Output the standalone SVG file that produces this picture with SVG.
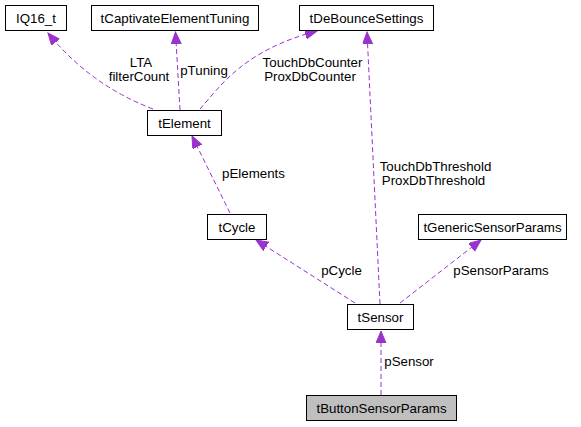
<svg xmlns="http://www.w3.org/2000/svg" width="581" height="427" viewBox="0 0 581 427">
<style>
.node rect{fill:#ffffff;stroke:#000000;stroke-width:1}
.node.main rect{fill:#bfbfbf}
text{font-family:"Liberation Sans",Arial,sans-serif;font-size:13.3px;fill:#000000}
.node text{text-anchor:middle}
.edge path{fill:none;stroke:#9a32cd;stroke-width:1;stroke-dasharray:5,3}
.lbl{text-anchor:middle}
</style>
<defs>
<marker id="arr" markerUnits="userSpaceOnUse" markerWidth="14" markerHeight="12" refX="12" refY="5" orient="auto">
<path d="M0,0 L12,5 L0,10 z" fill="#9a32cd" stroke="#9a32cd" stroke-width="1"/>
</marker>
</defs>
<rect width="581" height="427" fill="#ffffff"/>
<g id="edges">
<g class="edge"><path d="M153,109 Q90,85 48,33" marker-end="url(#arr)"/></g>
<g class="edge"><path d="M180,110 L175.5,32" marker-end="url(#arr)"/></g>
<g class="edge"><path d="M200,109 C222,84 245,50 317,31" marker-end="url(#arr)"/></g>
<g class="edge"><path d="M230,213 L192,136" marker-end="url(#arr)"/></g>
<g class="edge"><path d="M355,303 L256,240" marker-end="url(#arr)"/></g>
<g class="edge"><path d="M380,304 L367,32" marker-end="url(#arr)"/></g>
<g class="edge"><path d="M400,303 L481,240" marker-end="url(#arr)"/></g>
<g class="edge"><path d="M381,395 L381,331" marker-end="url(#arr)"/></g>
<text class="lbl" x="141" y="66.5">LTA</text>
<text class="lbl" x="139" y="80.5">filterCount</text>
<text class="lbl" x="204" y="74.5">pTuning</text>
<text class="lbl" x="312.5" y="66.5">TouchDbCounter</text>
<text class="lbl" x="310" y="80.5">ProxDbCounter</text>
<text class="lbl" x="253.5" y="177.5">pElements</text>
<text class="lbl" x="435.5" y="170.5">TouchDbThreshold</text>
<text class="lbl" x="433.5" y="184.5">ProxDbThreshold</text>
<text class="lbl" x="341.5" y="275">pCycle</text>
<text class="lbl" x="501" y="275">pSensorParams</text>
<text class="lbl" x="409" y="366">pSensor</text>
</g>
<g id="IQ16_t" class="node"><rect x="5.5" y="5.5" width="61" height="25"/><text x="36" y="22.5">IQ16_t</text></g>
<g id="tCaptivateElementTuning" class="node"><rect x="91.5" y="5.5" width="167" height="25"/><text x="175" y="22.5">tCaptivateElementTuning</text></g>
<g id="tDeBounceSettings" class="node"><rect x="299.5" y="5.5" width="134" height="25"/><text x="366.5" y="22.5">tDeBounceSettings</text></g>
<g id="tElement" class="node"><rect x="147.5" y="110.5" width="74" height="25"/><text x="184.5" y="127.5">tElement</text></g>
<g id="tCycle" class="node"><rect x="207.5" y="214.5" width="59" height="25"/><text x="237" y="231.5">tCycle</text></g>
<g id="tGenericSensorParams" class="node"><rect x="418.5" y="214.5" width="148" height="25"/><text x="492.5" y="231.5">tGenericSensorParams</text></g>
<g id="tSensor" class="node"><rect x="347.5" y="304.5" width="66" height="25"/><text x="380.5" y="321.5">tSensor</text></g>
<g id="tButtonSensorParams" class="node main"><rect x="306.5" y="395.5" width="150" height="25"/><text x="381.5" y="412.5">tButtonSensorParams</text></g>
</svg>
